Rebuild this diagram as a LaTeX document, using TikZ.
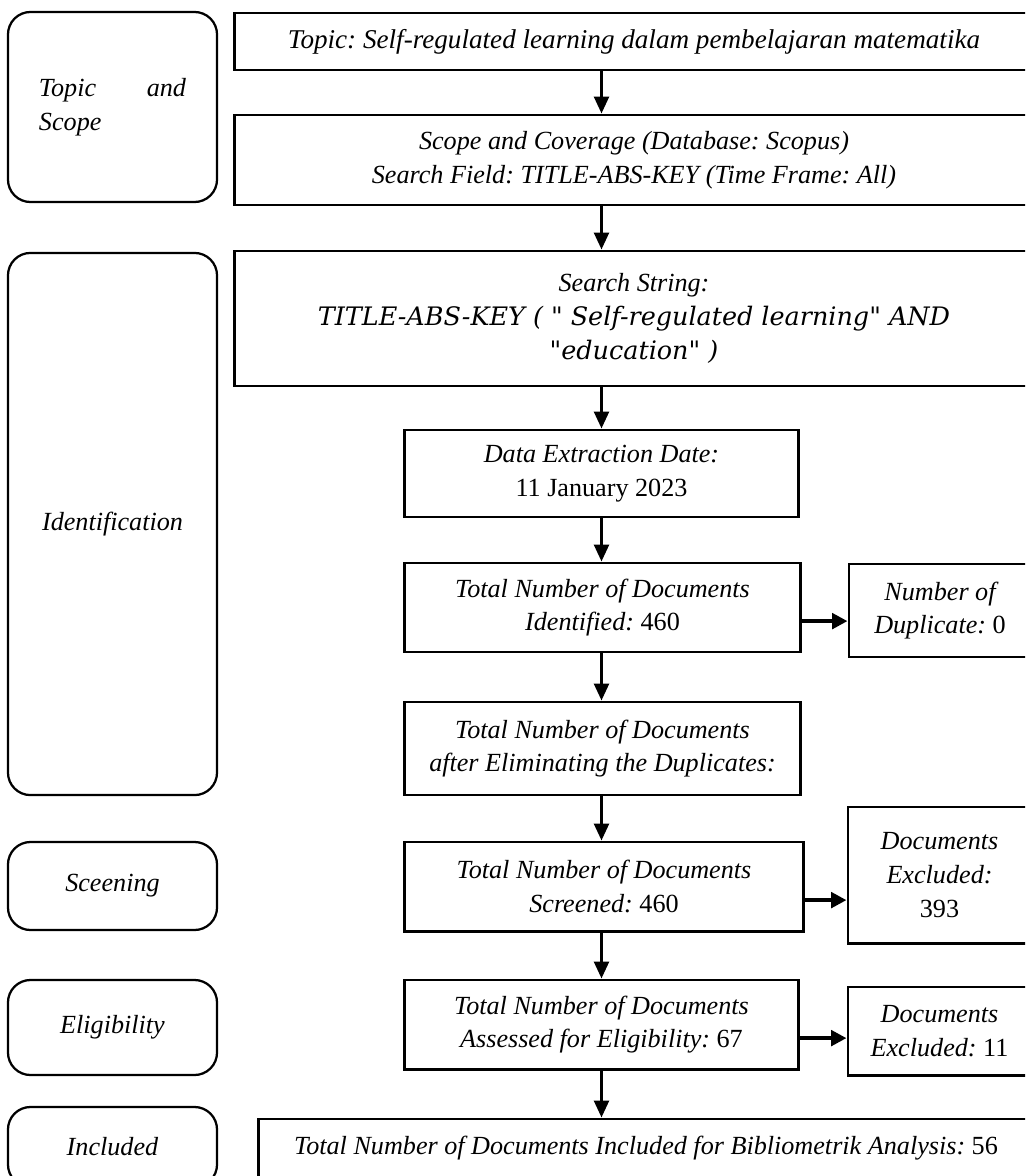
\documentclass[tikz,border=0pt]{standalone}
\usepackage{fontspec}
\setmainfont{Liberation Serif}
\newfontfamily\srch{DejaVu Serif}
\usetikzlibrary{arrows.meta}

\tikzset{
    stage/.style={draw, line width=1.6pt, rounded corners=16pt, align=center,
        inner sep=0pt, minimum width=5.225cm, font=\fontsize{18.6}{24}\selectfont\itshape},
    box/.style={draw, line width=2.1pt, align=center, inner sep=0pt,
        font=\fontsize{18.6}{24}\selectfont\itshape},
    arr/.style={-{Triangle[length=12pt,width=10.5pt]}, line width=2.1pt},
    harr/.style={-{Triangle[length=11pt,width=11pt]}, line width=3pt}
}

\begin{document}
\frenchspacing
\begin{tikzpicture}[x=0.025cm, y=-0.025cm]
    \useasboundingbox (0,0) rectangle (1025,1176);
    \clip (0,0) rectangle (1025,1176);

    % stages on the left
    \node[stage, minimum height=4.75cm] (topicscope) at (112.5,107)
        {\parbox{3.675cm}{Topic\hfill and\\Scope}};
    \node[stage, minimum height=13.55cm] (identstage) at (112.5,524) {Identification};
    \node[stage, minimum height=2.2cm] (screenstage) at (112.5,886) {Sceening};
    \node[stage, minimum height=2.375cm] (eligstage) at (112.5,1027.5) {Eligibility};
    \node[stage, minimum height=2cm] (inclstage) at (112.5,1147) {Included};

    % main flow
    \node[box, minimum width=19.95cm, minimum height=1.425cm, font=\fontsize{19.3}{24}\selectfont\itshape] (topic) at (634,41.5)
        {Topic: Self-regulated learning dalam pembelajaran matematika};
    \node[box, minimum width=19.95cm, minimum height=2.25cm] (scope) at (634,160)
        {Scope and Coverage (Database: Scopus)\\Search Field: TITLE-ABS-KEY (Time Frame: All)};
    \node[box, minimum width=19.95cm, minimum height=3.375cm] (search) at (634,318.5)
        {Search String:\\\srch\fontsize{18.1}{24.5}\selectfont TITLE-ABS-KEY ( " Self-regulated learning" AND\\\srch\fontsize{18.1}{24.5}\selectfont "education" )};
    \node[box, minimum width=9.825cm, minimum height=2.175cm] (extract) at (601.5,473.5)
        {Data Extraction Date:\\\textup{11 January 2023}};
    \node[box, minimum width=9.875cm, minimum height=2.225cm] (identified) at (602.5,607.5)
        {Total Number of Documents\\Identified: \textup{460}};
    \node[box, minimum width=4.55cm, minimum height=2.325cm] (duplicate) at (940,610.5)
        {Number of\\Duplicate: \textup{0}};
    \node[box, minimum width=9.875cm, minimum height=2.325cm] (nodup) at (602.5,748.5)
        {Total Number of Documents\\after Eliminating the Duplicates:};
    \node[box, minimum width=9.95cm, minimum height=2.225cm] (screened) at (604,886.5)
        {Total Number of Documents\\Screened: \textup{460}};
    \node[box, minimum width=4.575cm, minimum height=3.4cm] (excla) at (939.5,875)
        {Documents\\Excluded:\\\textup{393}};
    \node[box, minimum width=9.825cm, minimum height=2.225cm] (assessed) at (601.5,1024.5)
        {Total Number of Documents\\Assessed for Eligibility: \textup{67}};
    \node[box, minimum width=4.575cm, minimum height=2.2cm] (exclb) at (939.5,1031)
        {Documents\\Excluded: \textup{11}};
    \node[box, minimum width=19.35cm, minimum height=1.475cm] (included) at (646,1148.5)
        {Total Number of Documents Included for Bibliometrik Analysis: \textup{56}};

    % arrows
    \draw[arr] (topic.south -| extract) -- (scope.north -| extract);
    \draw[arr] (scope.south -| extract) -- (search.north -| extract);
    \draw[arr] (search.south -| extract) -- (extract.north);
    \draw[arr] (extract.south) -- (extract.south |- identified.north);
    \draw[arr] (identified.south -| extract) -- (nodup.north -| extract);
    \draw[arr] (nodup.south -| extract) -- (screened.north -| extract);
    \draw[arr] (screened.south -| extract) -- (assessed.north -| extract);
    \draw[arr] (assessed.south -| extract) -- (included.north -| extract);
    \draw[harr] ([yshift=-0.34cm]identified.east) -- ([yshift=-0.34cm]identified.east -| duplicate.west);
    \draw[harr] ([yshift=-0.34cm]screened.east) -- ([yshift=-0.34cm]screened.east -| excla.west);
    \draw[harr] ([yshift=-0.34cm]assessed.east) -- ([yshift=-0.34cm]assessed.east -| exclb.west);
\end{tikzpicture}
\end{document}
